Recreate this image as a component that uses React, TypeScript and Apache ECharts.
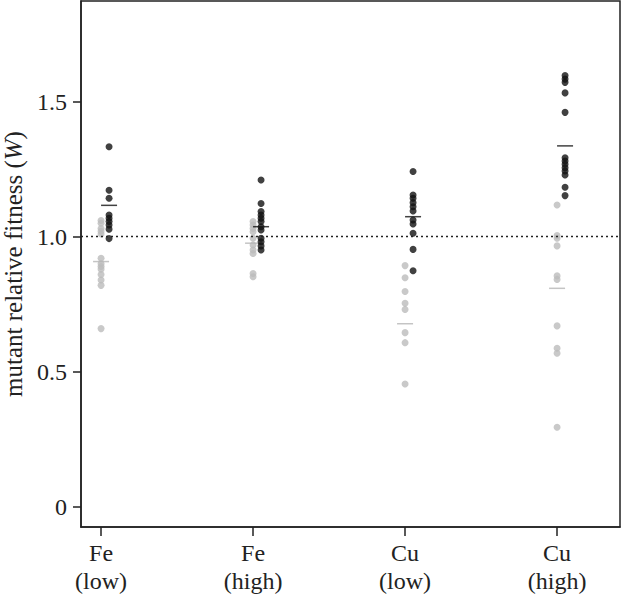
import React, { useEffect, useRef } from "react";
import * as echarts from "echarts";

const categories = ["Fe\n(low)", "Fe\n(high)", "Cu\n(low)", "Cu\n(high)"];
const yTickValues = [0, 0.5, 1, 1.5];
const yTickLabels = ["0", "0.5", "1.0", "1.5"];

const grayFeLow = [1.06, 1.05, 1.03, 1.02, 1.01, 0.92, 0.9, 0.89, 0.88, 0.86, 0.84, 0.82, 0.66];
const blackFeLow = [1.333, 1.172, 1.142, 1.08, 1.068, 1.056, 1.043, 1.028, 0.993];
const grayFeHigh = [1.056, 1.043, 1.03, 1.018, 0.994, 0.969, 0.951, 0.938, 0.864, 0.852];
const blackFeHigh = [1.21, 1.123, 1.093, 1.08, 1.068, 1.056, 1.037, 1.025, 0.994, 0.981, 0.966, 0.951];
const grayCuLow = [0.893, 0.848, 0.797, 0.754, 0.731, 0.645, 0.608, 0.455];
const blackCuLow = [1.241, 1.154, 1.142, 1.126, 1.111, 1.095, 1.062, 1.047, 1.013, 0.953, 0.874];
const grayCuHigh = [1.117, 1.004, 0.994, 0.966, 0.855, 0.842, 0.67, 0.587, 0.569, 0.295];
const blackCuHigh = [1.596, 1.583, 1.571, 1.532, 1.46, 1.292, 1.28, 1.268, 1.255, 1.243, 1.228, 1.183, 1.152];

const grayMeans = [0.908, 0.976, 0.678, 0.809];
const blackMeans = [1.116, 1.037, 1.074, 1.336];
const referenceLine = 1.0;

const grayGroups = [grayFeLow, grayFeHigh, grayCuLow, grayCuHigh];
const blackGroups = [blackFeLow, blackFeHigh, blackCuLow, blackCuHigh];

const BLACK_OFFSET = 0.0526;
const FONT = "Liberation Serif, Times New Roman, Times, serif";
const GRAY = "#bcbcbc";
const DARK = "#111111";
const AXIS = "#222222";

export default function App() {
  const ref = useRef<HTMLDivElement>(null);
  useEffect(() => {
    document.body.style.margin = "0";
    if (!ref.current) return;
    const chart = echarts.init(ref.current, null, { renderer: "svg" });

    const grayData: number[][] = [];
    grayGroups.forEach((g, i) => g.forEach((v) => grayData.push([i, v])));
    const blackData: number[][] = [];
    blackGroups.forEach((g, i) => g.forEach((v) => blackData.push([i + BLACK_OFFSET, v])));
    const grayMeanData = grayMeans.map((v, i) => [i, v]);
    const blackMeanData = blackMeans.map((v, i) => [i + BLACK_OFFSET, v]);

    chart.setOption({
      animation: false,
      backgroundColor: "#ffffff",
      textStyle: { fontFamily: FONT },
      grid: {
        left: 81,
        top: 1,
        width: 539,
        height: 526,
        show: true,
        borderColor: AXIS,
        borderWidth: 1.5,
        containLabel: false,
        outerBoundsMode: "none",
      },
      xAxis: {
        type: "value",
        min: -0.132,
        max: 3.414,
        splitLine: { show: false },
        axisLine: { show: true, onZero: false, lineStyle: { color: AXIS, width: 1.5 } },
        axisTick: {
          show: true,
          length: 9,
          inside: false,
          customValues: [0, 1, 2, 3],
          lineStyle: { color: AXIS, width: 1.5 },
        },
        axisLabel: {
          customValues: [0, 1, 2, 3],
          formatter: (v: number) => categories[Math.round(v)] ?? "",
          fontFamily: FONT,
          fontSize: 24,
          lineHeight: 28,
          color: "#222",
          margin: 12,
        },
      },
      yAxis: {
        type: "value",
        min: -0.074,
        max: 1.872,
        splitLine: { show: false },
        axisLine: { show: true, onZero: false, lineStyle: { color: AXIS, width: 1.5 } },
        axisTick: {
          show: true,
          length: 8,
          customValues: yTickValues,
          lineStyle: { color: AXIS, width: 1.5 },
        },
        axisLabel: {
          customValues: yTickValues,
          formatter: (v: number) => {
            const idx = yTickValues.findIndex((t) => Math.abs(t - v) < 1e-6);
            return idx >= 0 ? yTickLabels[idx] : "";
          },
          fontFamily: FONT,
          fontSize: 24,
          color: "#222",
          margin: 14,
        },
        name: "mutant relative fitness ({i|W})",
        nameLocation: "middle",
        nameGap: 52,
        nameRotate: 90,
        nameTextStyle: {
          fontFamily: FONT,
          fontSize: 25,
          color: "#222",
          rich: { i: { fontFamily: FONT, fontSize: 25, fontStyle: "italic", color: "#222" } },
        },
      },
      series: [
        {
          type: "scatter",
          data: grayData,
          symbol: "circle",
          symbolSize: 7,
          itemStyle: { color: GRAY },
          silent: true,
          z: 2,
          markLine: {
            silent: true,
            symbol: ["none", "none"],
            label: { show: false },
            lineStyle: { color: "#222", type: [2, 3], width: 1.3 },
            data: [{ yAxis: referenceLine }],
          },
        },
        {
          type: "scatter",
          data: grayMeanData,
          symbol: "rect",
          symbolSize: [16, 1.5],
          itemStyle: { color: "#b5b5b5" },
          silent: true,
          z: 3,
        },
        {
          type: "scatter",
          data: blackData,
          symbol: "circle",
          symbolSize: 7,
          itemStyle: { color: DARK },
          silent: true,
          z: 4,
        },
        {
          type: "scatter",
          data: blackMeanData,
          symbol: "rect",
          symbolSize: [16, 1.5],
          itemStyle: { color: DARK },
          silent: true,
          z: 5,
        },
      ],
    });
    return () => chart.dispose();
  }, []);
  return <div ref={ref} style={{ width: 624, height: 597 }} />;
}
